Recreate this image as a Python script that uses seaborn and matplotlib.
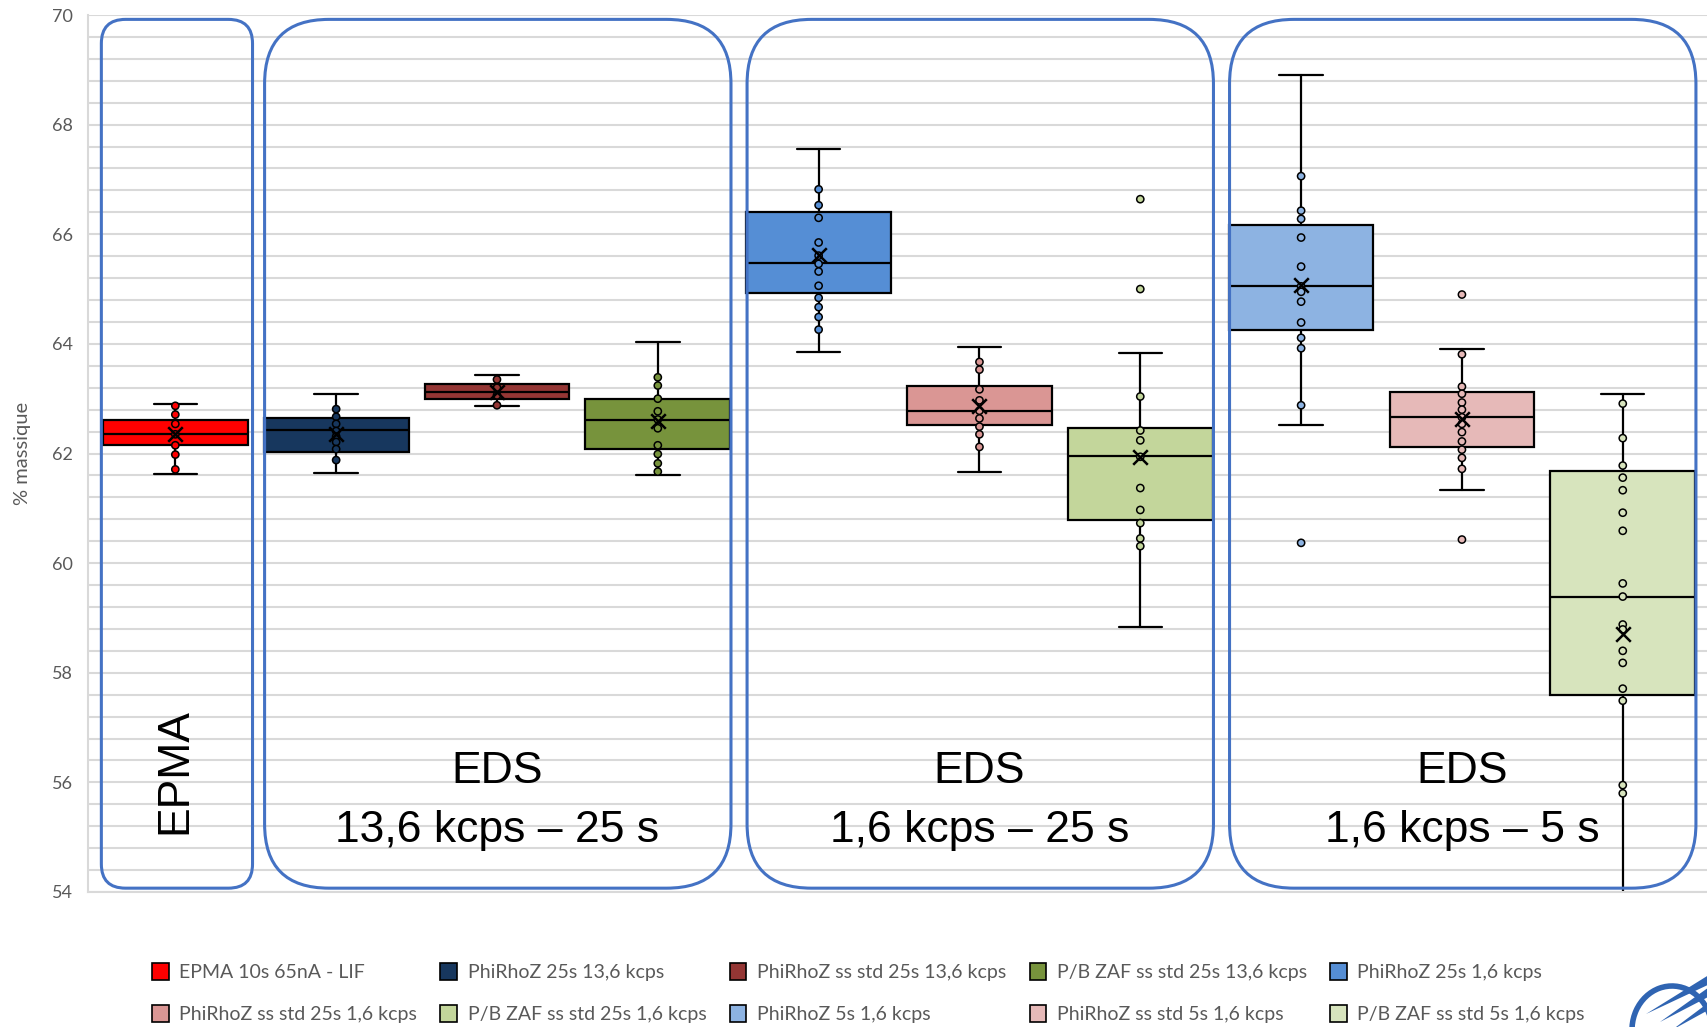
import numpy as np
import pandas as pd
import matplotlib
matplotlib.use("Agg")
import matplotlib.pyplot as plt
import seaborn as sns
from matplotlib.patches import FancyBboxPatch, Patch, Arc, Polygon
from matplotlib.transforms import IdentityTransform
from matplotlib.ticker import MultipleLocator

# ---------------- data ----------------
series = ["EPMA 10s 65nA - LIF", "PhiRhoZ 25s 13,6 kcps", "PhiRhoZ ss std 25s 13,6 kcps",
          "P/B ZAF ss std 25s 13,6 kcps", "PhiRhoZ 25s 1,6 kcps", "PhiRhoZ ss std 25s 1,6 kcps",
          "P/B ZAF ss std 25s 1,6 kcps", "PhiRhoZ 5s 1,6 kcps", "PhiRhoZ ss std 5s 1,6 kcps",
          "P/B ZAF ss std 5s 1,6 kcps"]
colors = ["#FF0000", "#17375E", "#943634", "#77933C", "#558ED5",
          "#DA9694", "#C3D69B", "#8DB3E2", "#E6B9B8", "#D7E4BD"]

q1 = [62.15, 62.02, 63.00, 62.09, 64.92, 62.52, 60.79, 64.25, 62.12, 57.59]
median = [62.35, 62.42, 63.12, 62.62, 65.48, 62.78, 61.95, 65.05, 62.67, 59.39]
q3 = [62.62, 62.64, 63.26, 63.00, 66.41, 63.23, 62.46, 66.16, 63.12, 61.68]
whisker_low = [61.62, 61.64, 62.87, 61.60, 63.85, 61.67, 58.84, 62.52, 61.33, 53.5]
whisker_high = [62.91, 63.08, 63.44, 64.03, 67.56, 63.94, 63.84, 68.91, 63.90, 63.09]
means = [62.35, 62.35, 63.12, 62.60, 65.63, 62.86, 61.93, 65.08, 62.63, 58.71]

pts_epma = [62.87, 62.71, 62.54, 62.35, 62.15, 61.98, 61.71]
pts_prz_25_136 = [62.81, 62.67, 62.54, 62.41, 62.31, 62.21, 62.08, 61.88]
pts_przss_25_136 = [63.35, 63.20, 63.06, 62.88]
pts_pb_25_136 = [63.39, 63.24, 63.00, 62.77, 62.62, 62.46, 62.15, 61.99, 61.82, 61.67]
pts_prz_25_16 = [66.82, 66.53, 66.30, 65.85, 65.61, 65.46, 65.32, 65.06, 64.84, 64.67, 64.49, 64.26]
pts_przss_25_16 = [63.67, 63.53, 63.17, 62.97, 62.78, 62.64, 62.49, 62.35, 62.12]
pts_pb_25_16 = [66.64, 65.00, 63.04, 62.42, 62.24, 61.94, 61.37, 60.97, 60.73, 60.45, 60.31]
pts_prz_5_16 = [67.06, 66.43, 66.28, 65.94, 65.41, 65.05, 64.95, 64.77, 64.39, 64.11, 63.92, 62.88, 60.37]
pts_przss_5_16 = [64.90, 63.81, 63.22, 63.09, 62.93, 62.80, 62.66, 62.54, 62.39, 62.22, 62.07, 61.92, 61.72, 60.43]
pts_pb_5_16 = [62.91, 62.28, 61.78, 61.56, 61.33, 60.92, 60.59, 59.63, 59.39, 58.88, 58.79, 58.40,
               58.18, 57.71, 57.49, 55.95, 55.80]
points = [pts_epma, pts_prz_25_136, pts_przss_25_136, pts_pb_25_136, pts_prz_25_16,
          pts_przss_25_16, pts_pb_25_16, pts_prz_5_16, pts_przss_5_16, pts_pb_5_16]

groups = [("EPMA", None, 0, 0), ("EDS", "13,6 kcps \u2013 25 s", 1, 3),
          ("EDS", "1,6 kcps \u2013 25 s", 4, 6), ("EDS", "1,6 kcps \u2013 5 s", 7, 9)]

df = pd.DataFrame([(s, v) for s, vals in zip(series, points) for v in vals],
                  columns=["serie", "value"])

# ---------------- figure ----------------
sns.set_theme(style="white")
plt.rcParams["font.family"] = ["Lato", "DejaVu Sans"]
W, H = 1708, 1027
fig = plt.figure(figsize=(W / 100, H / 100), dpi=100)
ax = fig.add_axes([88 / W, 1 - 892 / H, 1 - 88 / W, (892 - 15) / H])

grey = "#595959"
gridc = "#D9D9D9"

# boxes
stats = [dict(med=m, q1=a, q3=b, whislo=lo, whishi=hi, fliers=[])
         for m, a, b, lo, hi in zip(median, q1, q3, whisker_low, whisker_high)]
bp = ax.bxp(stats, positions=list(range(len(series))), widths=0.9, patch_artist=True,
            showfliers=False, capwidths=0.27, manage_ticks=False,
            boxprops=dict(edgecolor="black", linewidth=1.6),
            medianprops=dict(color="black", linewidth=1.6),
            whiskerprops=dict(color="black", linewidth=1.6),
            capprops=dict(color="black", linewidth=1.6))
for patch, c in zip(bp["boxes"], colors):
    patch.set_facecolor(c)
    patch.set_zorder(2)

# points
sns.stripplot(data=df, x="serie", y="value", hue="serie", order=series, hue_order=series,
              palette=colors, jitter=False, size=5.2, linewidth=1.1, edgecolor="black",
              legend=False, ax=ax, zorder=4)
# means
sns.scatterplot(x=list(range(len(series))), y=means, marker="x", color="black", s=110,
                linewidth=1.8, ax=ax, zorder=5, legend=False)

ax.set_xlim(-0.543, 9.53)
ax.set_ylim(54, 70)
ax.set_xlabel("")
ax.set_ylabel("")
ax.set_xticks([])
ax.yaxis.set_major_locator(MultipleLocator(2))
ax.yaxis.set_minor_locator(MultipleLocator(0.4))
ax.grid(True, which="both", axis="y", color=gridc, linewidth=1.5, zorder=0)
ax.set_axisbelow(True)
ax.tick_params(axis="y", which="both", length=0, pad=11, labelsize=13, labelcolor=grey)
for s in ["top", "right"]:
    ax.spines[s].set_visible(False)
for s in ["left", "bottom"]:
    ax.spines[s].set_color(gridc)
    ax.spines[s].set_linewidth(1.5)

fig.text(23 / W, 1 - 453 / H, "% massique", rotation=90, ha="center", va="center",
         fontsize=14.5, color=grey)

# group frames
fig.canvas.draw()
p0 = ax.transData.transform((0, 0))
p1 = ax.transData.transform((1, 1))
aspect = (p1[0] - p0[0]) / (p1[1] - p0[1])
for title, sub, a, b in groups:
    if a == b:
        x0, x1, r = a - 0.46, b + 0.48, 0.15
    else:
        x0, x1, r = a - 0.445, b + 0.455, 0.40
    y0, y1 = 54.07, 69.92
    box = FancyBboxPatch((x0, y0), x1 - x0, y1 - y0,
                         boxstyle=f"round,pad=0,rounding_size={r}",
                         mutation_aspect=aspect, fill=False, edgecolor="#4472C4",
                         linewidth=2.2, zorder=6, clip_on=False)
    ax.add_patch(box)
    xc = (a + b) / 2
    fam = ["Liberation Sans", "DejaVu Sans"]
    if sub is None:
        ax.text(xc, 56.2, title, rotation=90, ha="center", va="center", fontsize=32,
                family=fam, color="black", zorder=7)
    else:
        ax.text(xc, 56.2, title, ha="center", va="center", fontsize=32,
                family=fam, color="black", zorder=7)
        ax.text(xc, 55.13, sub, ha="center", va="center", fontsize=32,
                family=fam, color="black", zorder=7)

# legend (row-major order for 5 columns)
handles = [Patch(facecolor=c, edgecolor="black", linewidth=1.2, label=s)
           for s, c in zip(series, colors)]
order = [0, 5, 1, 6, 2, 7, 3, 8, 4, 9]
fig.legend([handles[i] for i in order], [series[i] for i in order], ncol=5,
           loc="upper left", bbox_to_anchor=(152 / W, 1 - 963 / H), frameon=False,
           fontsize=14, labelcolor=grey, handlelength=0.85, handleheight=0.95,
           handletextpad=0.55, columnspacing=1.2, labelspacing=1.25,
           borderpad=0.0, borderaxespad=0)

# logo (bottom-right corner, partially cut)
logo_c = "#2F64B2"
tr = IdentityTransform()
fig.add_artist(Arc((1672, H - 1030), 80, 88, theta1=20, theta2=200, lw=4.0,
                   color=logo_c, transform=tr))
for (xa, ya, xb, yb, w) in [(1646, 1014, 1712, 978, 5), (1660, 1022, 1712, 990, 5),
                            (1672, 1030, 1712, 1004, 4)]:
    poly = Polygon([(xa, H - ya), (xb, H - yb + w), (xb, H - yb - w)], closed=True,
                   facecolor=logo_c, edgecolor="none", transform=tr)
    fig.add_artist(poly)

fig.savefig("out.png", dpi=100)
